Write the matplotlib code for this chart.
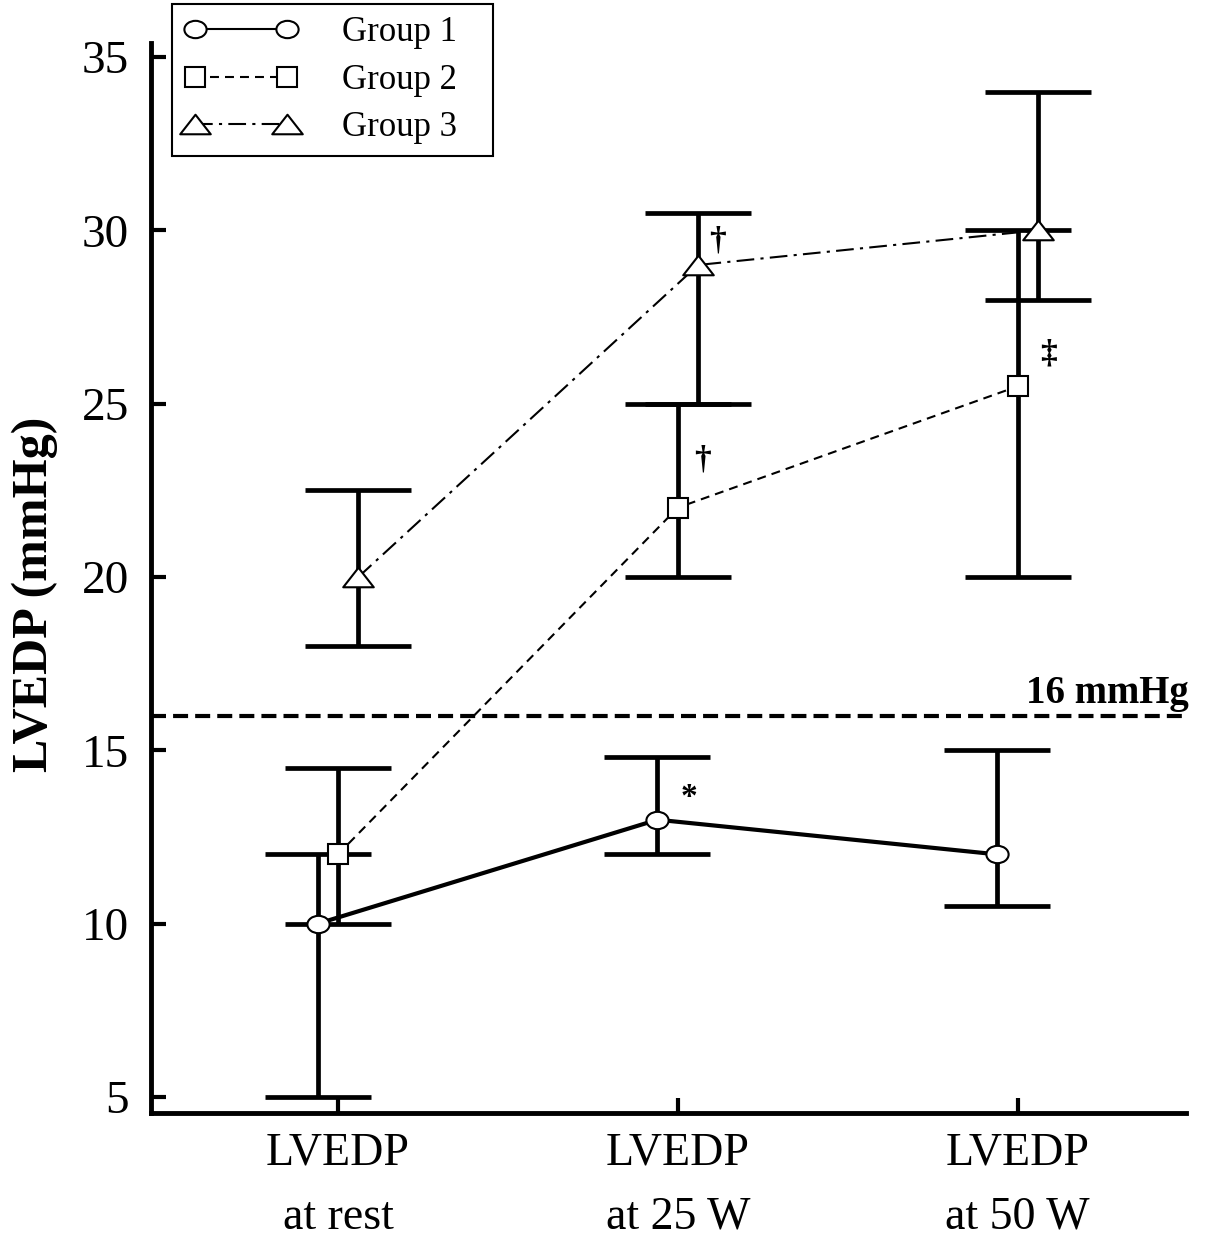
import numpy as np
import matplotlib
matplotlib.use("Agg")
import matplotlib.pyplot as plt
from matplotlib.path import Path

# --- data ---------------------------------------------------------------
conditions = ["LVEDP\nat rest", "LVEDP\nat 25 W", "LVEDP\nat 50 W"]
groups = ["Group 1", "Group 2", "Group 3"]

g1_mean = [10, 13, 12]
g1_low = [5, 12, 10.5]
g1_high = [12, 14.8, 15]

g2_mean = [12, 22, 25.5]
g2_low = [10, 20, 20]
g2_high = [14.5, 25, 30]

g3_mean = [20, 29, 30]
g3_low = [18, 25, 28]
g3_high = [22.5, 30.5, 34]

threshold = 16
threshold_label = "16 mmHg"

# significance symbols: (group index, condition index, symbol)
sig_marks = [(2, 1, "\u2020"), (1, 1, "\u2020"), (1, 2, "\u2021"), (0, 1, "*")]

# --- styling ---------------------------------------------------------------
plt.rcParams["font.family"] = ["Liberation Serif", "DejaVu Serif"]

ellipse = Path(Path.unit_circle().vertices * [1.0, 0.78], Path.unit_circle().codes)
flat_tri = Path([(-0.5, -0.32), (0.5, -0.32), (0.0, 0.32), (-0.5, -0.32)],
                [Path.MOVETO, Path.LINETO, Path.LINETO, Path.CLOSEPOLY])

styles = [
    dict(marker=ellipse, ms=16, lw=3.0, ls="-"),
    dict(marker="s", ms=15, lw=1.5, ls=(0, (4.3, 2.9))),
    dict(marker=flat_tri, ms=22, lw=1.5, ls=(0, (8.5, 3, 1.5, 3))),
]
offsets = [-0.06, 0.0, 0.06]
sig_offsets = {(2, 1): (14, 17), (1, 1): (18, 34), (1, 2): (22, 23), (0, 1): (23, 16)}

means = [g1_mean, g2_mean, g3_mean]
lows = [g1_low, g2_low, g3_low]
highs = [g1_high, g2_high, g3_high]

fig = plt.figure(figsize=(12.13, 12.41), dpi=100)
ax = fig.add_axes([0.1245, 0.1031, 0.8532, 0.8622])

x = np.arange(len(conditions))
for i, name in enumerate(groups):
    xs = x + offsets[i]
    m = np.array(means[i])
    err = [m - np.array(lows[i]), np.array(highs[i]) - m]
    ax.errorbar(xs, m, yerr=err, fmt="none", ecolor="black", elinewidth=3.4,
                capsize=38, capthick=3.4, zorder=2)
    st = styles[i]
    ax.plot(xs, m, color="black", lw=st["lw"], ls=st["ls"], marker=st["marker"],
            ms=st["ms"], mfc="white", mec="black", mew=1.5, label=name, zorder=4)

ax.axhline(threshold, color="black", lw=3, ls=(0, (3.6, 1.7)), zorder=1)
ax.text(1.003, threshold + 0.37, threshold_label, transform=ax.get_yaxis_transform(),
        ha="right", va="baseline", fontsize=28, fontweight="bold")

for gi, ci, sym in sig_marks:
    ax.annotate(sym, (x[ci] + offsets[gi], means[gi][ci]),
                xytext=sig_offsets[(gi, ci)], textcoords="offset points",
                ha="center", va="center", fontsize=24, fontweight="bold")

ax.set_xlim(-0.55, 2.495)
ax.set_ylim(4.54, 35.4)
ax.set_yticks([5, 10, 15, 20, 25, 30, 35])
ax.set_xticks(x)
ax.set_xticklabels(conditions, fontsize=33, linespacing=1.65)
ax.tick_params(axis="y", labelsize=34, pad=16)
ax.tick_params(direction="in", length=11, width=3)
ax.tick_params(axis="x", pad=14)
for side in ("top", "right"):
    ax.spines[side].set_visible(False)
for side in ("left", "bottom"):
    ax.spines[side].set_linewidth(3.5)

ax.set_ylabel("LVEDP (mmHg)", fontsize=36, fontweight="bold")
ax.yaxis.set_label_coords(-0.09, 0.485)

# legend box stretched to the width seen in the original
leg = fig.legend(loc="upper left",
                 bbox_to_anchor=(172 / 1213, 1 - 157 / 1241, 321 / 1213, 153 / 1241),
                 bbox_transform=fig.transFigure, mode="expand", borderaxespad=0,
                 numpoints=2, fontsize=25, handlelength=3.25, handletextpad=1.3,
                 labelspacing=0.42, fancybox=False, framealpha=1,
                 edgecolor="black", borderpad=0.35)
leg.get_frame().set_linewidth(1.5)
for line in leg.get_lines():
    line.set_linewidth(1.5)

fig.savefig("out.png", dpi=100)
